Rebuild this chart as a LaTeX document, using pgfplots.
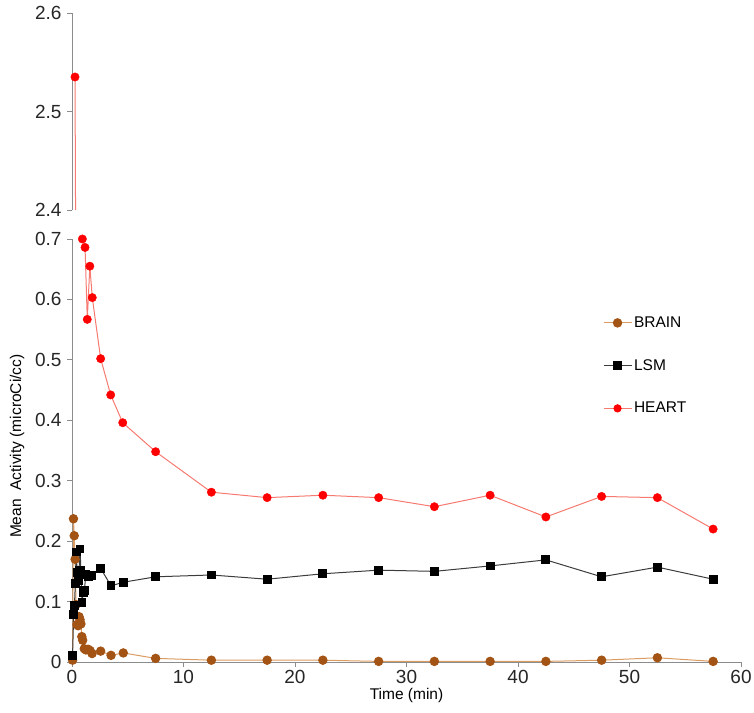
\documentclass[border=0pt]{standalone}
\usepackage{pgfplots}
\pgfplotsset{compat=1.18}
\usepackage{pgfplotstable}
\usepackage{fontspec}
\setmainfont{Liberation Sans}

\definecolor{brainc}{RGB}{163,84,20}
\definecolor{brainl}{RGB}{218,156,98}
\definecolor{heartl}{RGB}{246,122,112}
\definecolor{lsml}{RGB}{60,60,60}
\definecolor{axisgray}{RGB}{140,140,140}

% time (min), mean activity (microCi/cc)
\pgfplotstableread{
t v
0.05 0.003
0.13 0.237
0.20 0.209
0.28 0.170
0.36 0.095
0.45 0.062
0.55 0.060
0.63 0.075
0.72 0.070
0.80 0.063
0.88 0.042
0.96 0.036
1.10 0.022
1.25 0.020
1.45 0.021
1.62 0.019
1.80 0.014
2.57 0.018
3.50 0.011
4.60 0.015
7.5 0.006
12.5 0.003
17.5 0.003
22.5 0.003
27.5 0.001
32.5 0.001
37.5 0.001
42.5 0.001
47.5 0.003
52.5 0.007
57.5 0.001
}\brain

\pgfplotstableread{
t v
0.05 0.011
0.15 0.079
0.22 0.094
0.30 0.130
0.38 0.182
0.46 0.148
0.55 0.135
0.63 0.152
0.72 0.187
0.80 0.152
0.90 0.098
1.00 0.115
1.10 0.118
1.25 0.145
1.45 0.141
1.62 0.144
1.80 0.143
2.57 0.155
3.50 0.126
4.60 0.132
7.5 0.141
12.5 0.144
17.5 0.137
22.5 0.146
27.5 0.152
32.5 0.150
37.5 0.159
42.5 0.169
47.5 0.141
52.5 0.157
57.5 0.137
}\lsm

\pgfplotstableread{
t v
0.27 2.535
0.93 0.700
1.17 0.686
1.37 0.567
1.60 0.655
1.82 0.603
2.57 0.502
3.47 0.442
4.55 0.396
7.5 0.348
12.5 0.281
17.5 0.272
22.5 0.276
27.5 0.272
32.5 0.257
37.5 0.276
42.5 0.240
47.5 0.274
52.5 0.272
57.5 0.220
}\heart

\pgfplotsset{
  panel/.style={
    scale only axis, width=669pt,
    xmin=0, xmax=60,
    axis line style={axisgray, line width=1pt},
    tick style={axisgray, line width=0.8pt},
    tick align=outside, major tick length=5pt,
    ticklabel style={font=\fontsize{19}{19}\selectfont, text=black!85},
    yticklabel style={xshift=-2pt, /pgf/number format/fixed},
    /pgf/number format/assume math mode=true,
    legend image code/.code={
      \draw[mark repeat=2, mark phase=2, #1]
        plot coordinates {(0pt,0pt) (14pt,0pt) (28pt,0pt)};},
  },
}

\begin{document}
\begin{tikzpicture}
\useasboundingbox (0,0) rectangle (754pt,712pt);

% lower panel
\begin{axis}[panel,
  at={(72pt,50pt)}, anchor=south west,
  height=423pt,
  ymin=0, ymax=0.7,
  axis x line*=bottom, axis y line*=left,
  xtick={0,10,20,30,40,50,60},
  ytick={0,0.1,0.2,0.3,0.4,0.5,0.6,0.7},
  yticklabels={0,0.1,0.2,0.3,0.4,0.5,0.6,0.7},
  xlabel={Time (min)},
  ylabel={Mean\ \ Activity (microCi/cc)},
  label style={font=\fontsize{15.5}{15.5}\selectfont},
  xlabel style={at={(axis description cs:0.5,-0.079)}, anchor=center},
  ylabel style={at={(axis description cs:-0.082,0.51)}, anchor=center},
  legend style={at={(rel axis cs:0.789,0.826)}, anchor=north west,
    draw=none, fill=none, row sep=26.5pt,
    font=\fontsize{15.5}{15.5}\selectfont},
  legend cell align=left,
]
\addplot[brainl, line width=1pt, mark=*, mark size=4.2pt,
  mark options={draw=brainc, fill=brainc}] table {\brain};
\addlegendentry{BRAIN}
\addplot[lsml, line width=1pt, mark=square*, mark size=3.9pt,
  mark options={draw=black, fill=black}] table {\lsm};
\addlegendentry{LSM}
\addplot[heartl, line width=1pt, forget plot] table {\heart};
\addplot[only marks, mark=*, mark size=4.2pt, red,
  restrict y to domain=0:0.71, forget plot] table {\heart};
\addlegendimage{heartl, line width=1pt, mark=*, mark size=3.6pt,
  mark options={draw=red, fill=red}}
\addlegendentry{HEART}
\end{axis}

% upper panel (axis break)
\begin{axis}[panel,
  at={(72pt,502pt)}, anchor=south west,
  height=197pt,
  ymin=2.4, ymax=2.6,
  axis y line*=left, axis x line=none,
  xtick=\empty,
  ytick={2.4,2.5,2.6},
  yticklabels={2.4,2.5,2.6},
]
\addplot[heartl, line width=1pt] table {\heart};
\addplot[only marks, mark=*, mark size=4.2pt, red,
  restrict y to domain=2.39:2.61] table {\heart};
\end{axis}
\end{tikzpicture}
\end{document}
